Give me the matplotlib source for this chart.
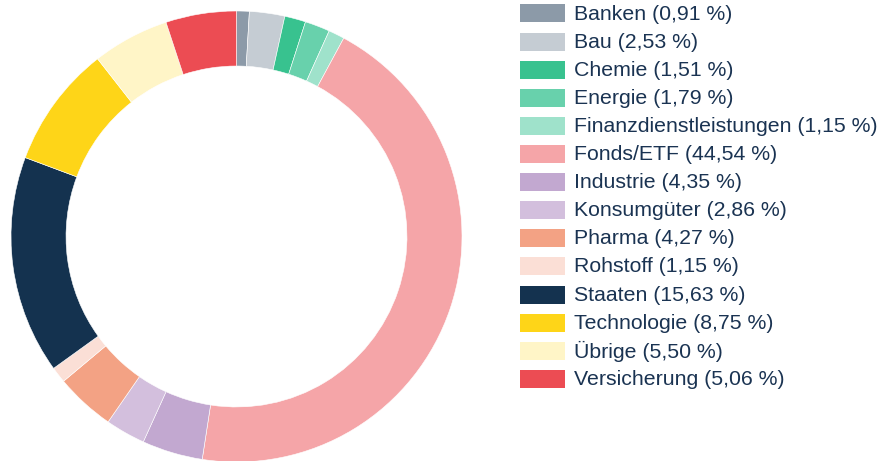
import matplotlib.pyplot as plt
from matplotlib.patches import Rectangle

# Branchenaufteilung
branchen = ['Banken', 'Bau', 'Chemie', 'Energie', 'Finanzdienstleistungen',
            'Fonds/ETF', 'Industrie', 'Konsumgüter', 'Pharma', 'Rohstoff',
            'Staaten', 'Technologie', 'Übrige', 'Versicherung']
anteile = [0.91, 2.53, 1.51, 1.79, 1.15, 44.54, 4.35, 2.86, 4.27, 1.15,
           15.63, 8.75, 5.50, 5.06]
farben = ['#8c9aa8', '#c5ccd3', '#38c28f', '#68d1ac', '#9fe2cb', '#f5a5a8',
          '#c2a8d0', '#d3bfdd', '#f3a284', '#fbdfd6', '#14324f', '#fed518',
          '#fff5c7', '#ec4c53']

W, H = 884, 461
fig = plt.figure(figsize=(W / 100, H / 100), dpi=100)

# Ring
cx, cy, r = 236.5, 236.5, 225.5
ax = fig.add_axes([(cx - r) / W, (H - cy - r) / H, 2 * r / W, 2 * r / H])
ax.pie(anteile, colors=farben, startangle=90, counterclock=False,
       radius=1, wedgeprops=dict(width=0.244, edgecolor='white', linewidth=0.4))
ax.set_xlim(-1, 1)
ax.set_ylim(-1, 1)
ax.set_aspect('equal')
ax.axis('off')

# Legende
lax = fig.add_axes([0, 0, 1, 1])
lax.set_xlim(0, W)
lax.set_ylim(H, 0)
lax.axis('off')
for i, (name, wert, farbe) in enumerate(zip(branchen, anteile, farben)):
    y = 13.5 + i * 28.1
    lax.add_patch(Rectangle((520, y - 9), 45, 18, color=farbe, lw=0))
    txt = f'{name} ({wert:.2f} %)'.replace('.', ',')
    lax.text(574, y + 0.5, txt, fontsize=15.3, family='Liberation Sans',
             color='#1a3352', va='center', ha='left')

fig.savefig('out.png', dpi=100)
